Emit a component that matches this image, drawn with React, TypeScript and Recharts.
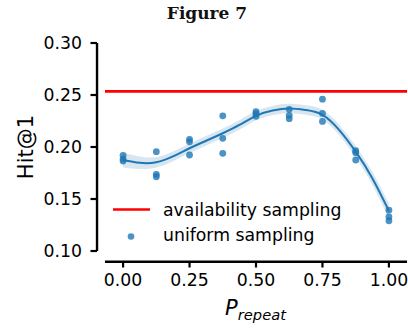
import React from "react";
import {
  ComposedChart,
  XAxis,
  YAxis,
  Line,
  Area,
  Scatter,
  ReferenceLine,
  Customized,
} from "recharts";

// ---- data ----
const pRepeatLevels = [0, 0.125, 0.25, 0.375, 0.5, 0.625, 0.75, 0.875, 1.0];
const uniformRun1 = [0.192, 0.1955, 0.2074, 0.23, 0.234, 0.2362, 0.246, 0.1964, 0.1393];
const uniformRun2 = [0.1884, 0.1737, 0.205, 0.2083, 0.232, 0.2305, 0.2323, 0.1945, 0.1329];
const uniformRun3 = [0.1865, 0.1714, 0.1923, 0.1939, 0.2295, 0.2272, 0.2246, 0.1875, 0.1291];

const fitX = [0, 0.0625, 0.125, 0.1875, 0.25, 0.3125, 0.375, 0.4375, 0.5, 0.5625, 0.625, 0.6875, 0.75, 0.8125, 0.875, 0.9375, 1.0];
const fitY = [0.1875, 0.1848, 0.1853, 0.191, 0.1988, 0.206, 0.2132, 0.2212, 0.23, 0.235, 0.237, 0.2355, 0.231, 0.2165, 0.1955, 0.17, 0.1385];
const fitHalfCI = [0.0072, 0.006, 0.005, 0.0046, 0.0045, 0.0045, 0.0045, 0.0045, 0.0045, 0.0045, 0.0045, 0.0046, 0.0048, 0.005, 0.0055, 0.0062, 0.0072];

const availabilitySampling = 0.2535;

const xTicks = [0, 0.25, 0.5, 0.75, 1.0];
const xTickLabels = ["0.00", "0.25", "0.50", "0.75", "1.00"];
const yTicks = [0.1, 0.15, 0.2, 0.25, 0.3];
const yTickLabels = ["0.10", "0.15", "0.20", "0.25", "0.30"];

const xDomain: [number, number] = [-0.068, 1.068];
const yDomain: [number, number] = [0.1, 0.3];
const ySpineX = -0.098;
const xSpineY = 0.0897;

// ---- derived tables ----
const scatterPoints = pRepeatLevels.flatMap((x, i) => [
  { x, y: uniformRun1[i] },
  { x, y: uniformRun2[i] },
  { x, y: uniformRun3[i] },
]);
const fitData = fitX.map((x, i) => ({
  x,
  y: fitY[i],
  band: [fitY[i] - fitHalfCI[i], fitY[i] + fitHalfCI[i]],
}));

const FONT = "'DejaVu Sans', sans-serif";
const C0 = "#1f77b4";

const XTick = (props: any) => {
  const { x, y, payload } = props;
  const idx = xTicks.indexOf(payload.value);
  return (
    <g>
      <line x1={x} x2={x} y1={y + 11} y2={y + 16.5} stroke="#000" strokeWidth={2.2} />
      <text x={x} y={y + 35} textAnchor="middle" fontFamily={FONT} fontSize={17.3} fill="#000">
        {xTickLabels[idx] ?? payload.value}
      </text>
    </g>
  );
};

const YTick = (props: any) => {
  const { x, y, payload } = props;
  const idx = yTicks.findIndex((t) => Math.abs(t - payload.value) < 1e-9);
  return (
    <g>
      <line x1={x - 14.5} x2={x - 8} y1={y} y2={y} stroke="#000" strokeWidth={2.2} />
      <text x={x - 23} y={y + 6.3} textAnchor="end" fontFamily={FONT} fontSize={17.3} fill="#000">
        {yTickLabels[idx] ?? payload.value}
      </text>
    </g>
  );
};

const Overlay = () => (
  <g>
    <text x={207} y={18.5} textAnchor="middle" fontFamily="'DejaVu Serif', serif" fontWeight="bold" fontSize={17} fill="#111">
      Figure 7
    </text>
    <text
      x={32.5}
      y={147}
      transform="rotate(-90, 32.5, 147)"
      textAnchor="middle"
      fontFamily={FONT}
      fontSize={21}
      fill="#000"
    >
      Hit@1
    </text>
    <text x={255.5} y={315} textAnchor="middle" fontFamily={FONT} fill="#000">
      <tspan fontStyle="italic" fontSize={21}>P</tspan>
      <tspan fontStyle="italic" fontSize={14.7} dy={5}>repeat</tspan>
    </text>
    {/* legend */}
    <line x1={113} x2={150} y1={209.5} y2={209.5} stroke="#ff0000" strokeWidth={2.6} />
    <text x={163} y={216} fontFamily={FONT} fontSize={17.3} fill="#000">
      availability sampling
    </text>
    <circle cx={131} cy={236.5} r={3.3} fill={C0} fillOpacity={0.8} />
    <text x={163} y={240.5} fontFamily={FONT} fontSize={17.3} fill="#000">
      uniform sampling
    </text>
  </g>
);

const Dot = (props: any) => {
  const { cx, cy } = props;
  if (cx == null || cy == null) return null;
  return <circle cx={cx} cy={cy} r={3.4} fill={C0} fillOpacity={0.8} />;
};

export default function App() {
  return (
    <div style={{ position: "absolute", left: 0, top: 0, width: 408, height: 329, background: "#fff" }}>
      <ComposedChart width={408} height={329} margin={{ top: 43, right: 1, left: 0, bottom: 0 }}>
        <XAxis
          type="number"
          dataKey="x"
          domain={xDomain}
          allowDataOverflow
          ticks={xTicks}
          height={78}
          axisLine={false}
          tickLine={false}
          tickSize={0}
          tickMargin={0}
          tick={(p: any) => <XTick {...p} />}
        />
        <YAxis
          type="number"
          domain={yDomain}
          allowDataOverflow
          ticks={yTicks}
          width={105}
          axisLine={false}
          tickLine={false}
          tickSize={0}
          tickMargin={0}
          tick={(p: any) => <YTick {...p} />}
        />
        <Area
          data={fitData}
          dataKey="band"
          type="natural"
          stroke="none"
          fill={C0}
          fillOpacity={0.18}
          isAnimationActive={false}
        />
        <Scatter data={scatterPoints} dataKey="y" shape={<Dot />} isAnimationActive={false} />
        <Line
          data={fitData}
          dataKey="y"
          type="natural"
          stroke={C0}
          strokeWidth={2}
          dot={false}
          activeDot={false}
          isAnimationActive={false}
        />
        <ReferenceLine y={availabilitySampling} stroke="#ff0000" strokeWidth={2.6} />
        <ReferenceLine
          segment={[
            { x: ySpineX, y: yDomain[0] },
            { x: ySpineX, y: yDomain[1] },
          ]}
          stroke="#000"
          strokeWidth={2.4}
          ifOverflow="visible"
        />
        <ReferenceLine
          segment={[
            { x: xDomain[0], y: xSpineY },
            { x: xDomain[1], y: xSpineY },
          ]}
          stroke="#000"
          strokeWidth={2.4}
          ifOverflow="visible"
        />
        <Customized component={Overlay} />
      </ComposedChart>
    </div>
  );
}
